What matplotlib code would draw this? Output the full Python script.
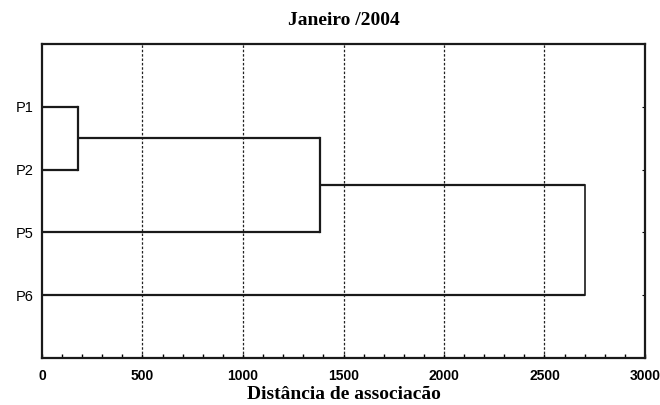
import matplotlib
matplotlib.use("Agg")
import matplotlib.pyplot as plt
import numpy as np

# Data
leaf_labels = ["P1", "P2", "P5", "P6"]
# merges: (left node, right node, distance); nodes 0..3 leaves, 4.. clusters
merge_left = [0, 4, 5]
merge_right = [1, 2, 3]
merge_dist = [180, 1383, 2700]
x_ticks = [0, 500, 1000, 1500, 2000, 2500, 3000]

fig = plt.figure(figsize=(6.6, 4.05), dpi=100)
ax = fig.add_axes([42/660, 1-358/405, (645-42)/660, (358-44)/405])

# leaf positions
ypos = {i: i + 1 for i in range(len(leaf_labels))}
xpos = {i: 0.0 for i in range(len(leaf_labels))}
lc = "#1a1a1a"
for k, (a, b, d) in enumerate(zip(merge_left, merge_right, merge_dist)):
    node = len(leaf_labels) + k
    ya, yb = ypos[a], ypos[b]
    ax.plot([xpos[a], d], [ya, ya], color=lc, lw=1.6, solid_capstyle="butt")
    ax.plot([xpos[b], d], [yb, yb], color=lc, lw=1.6, solid_capstyle="butt")
    ax.plot([d, d], [ya, yb], color=lc, lw=1.6 if k < 2 else 1.2)
    ypos[node] = (ya + yb) / 2
    xpos[node] = d

for x in x_ticks[1:-1]:
    ax.axvline(x, color="#222222", lw=0.9, ls=(0, (2, 1.5)), zorder=0)

ax.set_xlim(0, 3000)
ax.set_ylim(5, 0)
ax.set_xticks(x_ticks)
ax.set_xticklabels([str(v) for v in x_ticks], fontfamily="Liberation Sans",
                   fontweight="bold", fontsize=10)
ax.set_xticks(np.arange(0, 3001, 100), minor=True)
ax.tick_params(axis="x", which="both", direction="in", length=3, width=1, top=False, pad=8)
ax.set_yticks([1, 2, 3, 4])
ax.set_yticklabels(leaf_labels, fontfamily="Liberation Sans", fontsize=10.5)
ax.tick_params(axis="y", which="both", left=False, right=True, direction="in", length=2, pad=6)

for s in ax.spines.values():
    s.set_linewidth(1.6)
    s.set_color("#1a1a1a")

ax.set_title("Janeiro /2004", fontfamily="Liberation Serif", fontweight="bold",
             fontsize=14, pad=14)
ax.set_xlabel("Distância de associacão", fontfamily="Liberation Serif",
              fontweight="bold", fontsize=14, labelpad=2)

fig.savefig("out.png", dpi=100)
